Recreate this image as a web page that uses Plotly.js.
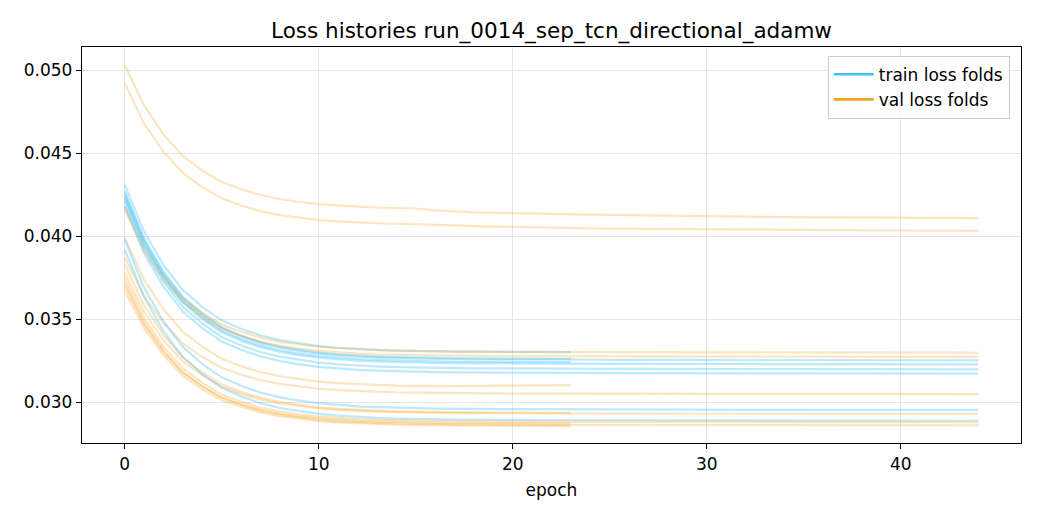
<!DOCTYPE html>
<html>
<head>
<meta charset="utf-8">
<script src="https://cdn.plot.ly/plotly-3.0.1.min.js"></script>
<style>
  body { margin: 0; background: #fff; }
  #plot { width: 1040px; height: 520px; }
</style>
</head>
<body>
<div id="plot"></div>
<script>
// loss per epoch
// train folds (some folds stop early at epoch 23)
var train_f1 = [0.04310, 0.04027, 0.03825, 0.03674, 0.03573, 0.03492, 0.03441, 0.03401, 0.03373, 0.03353, 0.03337, 0.03327, 0.03319, 0.03314, 0.03310, 0.03307, 0.03305, 0.03304, 0.03303, 0.03302, 0.03302, 0.03301, 0.03301, 0.03300];
var train_f2 = [0.04270, 0.03987, 0.03785, 0.03634, 0.03533, 0.03452, 0.03401, 0.03361, 0.03333, 0.03313, 0.03297, 0.03287, 0.03279, 0.03274, 0.03270, 0.03267, 0.03265, 0.03264, 0.03263, 0.03262, 0.03262, 0.03261, 0.03261, 0.03260];
var train_f3 = [0.04260, 0.03975, 0.03775, 0.03625, 0.03525, 0.03445, 0.03395, 0.03355, 0.03327, 0.03307, 0.03292, 0.03282, 0.03274, 0.03269, 0.03265, 0.03262, 0.03260, 0.03259, 0.03258, 0.03257, 0.03257, 0.03256, 0.03256,
  0.03255, 0.03255, 0.03254, 0.03254, 0.03254, 0.03254, 0.03253, 0.03253, 0.03253, 0.03253, 0.03253, 0.03252, 0.03252, 0.03252, 0.03252, 0.03252, 0.03252, 0.03251, 0.03251, 0.03251, 0.03251, 0.03251];
var train_f4 = [0.04240, 0.03960, 0.03760, 0.03610, 0.03510, 0.03430, 0.03380, 0.03340, 0.03312, 0.03292, 0.03277, 0.03267, 0.03259, 0.03254, 0.03250, 0.03247, 0.03245, 0.03244, 0.03243, 0.03242, 0.03242, 0.03241, 0.03241, 0.03240];
var train_f5 = [0.04230, 0.03950, 0.03750, 0.03600, 0.03500, 0.03420, 0.03370, 0.03330, 0.03302, 0.03282, 0.03267, 0.03257, 0.03249, 0.03244, 0.03240, 0.03237, 0.03235, 0.03234, 0.03233, 0.03232, 0.03232, 0.03231, 0.03231,
  0.03230, 0.03230, 0.03230, 0.03230, 0.03229, 0.03229, 0.03229, 0.03229, 0.03229, 0.03229, 0.03228, 0.03228, 0.03228, 0.03228, 0.03228, 0.03228, 0.03228, 0.03227, 0.03227, 0.03227, 0.03227, 0.03227];
var train_f6 = [0.04210, 0.03927, 0.03725, 0.03574, 0.03473, 0.03392, 0.03341, 0.03301, 0.03273, 0.03253, 0.03237, 0.03227, 0.03219, 0.03214, 0.03210, 0.03207, 0.03205, 0.03204, 0.03203, 0.03202, 0.03202, 0.03201, 0.03201,
  0.03200, 0.03200, 0.03200, 0.03200, 0.03199, 0.03199, 0.03199, 0.03199, 0.03199, 0.03199, 0.03198, 0.03198, 0.03198, 0.03198, 0.03198, 0.03198, 0.03198, 0.03197, 0.03197, 0.03197, 0.03197, 0.03197];
var train_f7 = [0.04180, 0.03895, 0.03695, 0.03545, 0.03445, 0.03365, 0.03315, 0.03275, 0.03247, 0.03227, 0.03212, 0.03202, 0.03194, 0.03189, 0.03185, 0.03182, 0.03180, 0.03179, 0.03178, 0.03177, 0.03177, 0.03176, 0.03176,
  0.03175, 0.03175, 0.03175, 0.03174, 0.03174, 0.03174, 0.03174, 0.03173, 0.03173, 0.03173, 0.03173, 0.03173, 0.03172, 0.03172, 0.03172, 0.03172, 0.03172, 0.03172, 0.03171, 0.03171, 0.03171, 0.03171];
var train_f8 = [0.03980, 0.03689, 0.03485, 0.03332, 0.03230, 0.03149, 0.03098, 0.03057, 0.03028, 0.03008, 0.02993, 0.02983, 0.02974, 0.02969, 0.02965, 0.02962, 0.02960, 0.02959, 0.02958, 0.02957, 0.02957, 0.02956, 0.02956,
  0.02955, 0.02955, 0.02955, 0.02955, 0.02954, 0.02954, 0.02954, 0.02954, 0.02954, 0.02953, 0.02953, 0.02953, 0.02953, 0.02953, 0.02953, 0.02952, 0.02952, 0.02952, 0.02952, 0.02952, 0.02952, 0.02952];
var train_f9 = [0.03920, 0.03632, 0.03426, 0.03271, 0.03168, 0.03086, 0.03034, 0.02993, 0.02964, 0.02944, 0.02928, 0.02918, 0.02910, 0.02904, 0.02900, 0.02897, 0.02895, 0.02894, 0.02893, 0.02892, 0.02892, 0.02891, 0.02891,
  0.02890, 0.02890, 0.02890, 0.02890, 0.02890, 0.02889, 0.02889, 0.02889, 0.02889, 0.02889, 0.02889, 0.02889, 0.02888, 0.02888, 0.02888, 0.02888, 0.02888, 0.02888, 0.02888, 0.02888, 0.02887, 0.02887];

// val folds
var val_f1 = [0.05030, 0.04786, 0.04612, 0.04482, 0.04395, 0.04325, 0.04282, 0.04247, 0.04223, 0.04205, 0.04192, 0.04183, 0.04177, 0.04172, 0.04169, 0.04166, 0.04155, 0.04148, 0.04143, 0.04140, 0.04137, 0.04135, 0.04133,
  0.04131, 0.04129, 0.04127, 0.04125, 0.04123, 0.04121, 0.04120, 0.04118, 0.04117, 0.04116, 0.04115, 0.04114, 0.04113, 0.04112, 0.04112, 0.04111, 0.04111, 0.04110, 0.04110, 0.04109, 0.04109, 0.04108];
var val_f2 = [0.04920, 0.04677, 0.04507, 0.04380, 0.04295, 0.04227, 0.04184, 0.04150, 0.04126, 0.04109, 0.04096, 0.04088, 0.04081, 0.04077, 0.04074, 0.04072, 0.04068, 0.04064, 0.04060, 0.04057, 0.04054, 0.04052, 0.04050,
  0.04048, 0.04046, 0.04045, 0.04044, 0.04043, 0.04042, 0.04041, 0.04040, 0.04039, 0.04038, 0.04037, 0.04036, 0.04036, 0.04035, 0.04035, 0.04034, 0.04034, 0.04033, 0.04033, 0.04032, 0.04032, 0.04031];
var val_f3 = [0.04180, 0.03934, 0.03758, 0.03626, 0.03538, 0.03467, 0.03423, 0.03388, 0.03363, 0.03346, 0.03333, 0.03324, 0.03317, 0.03312, 0.03309, 0.03306, 0.03304, 0.03304, 0.03303, 0.03302, 0.03301, 0.03301, 0.03301,
  0.03300, 0.03300, 0.03300, 0.03300, 0.03300, 0.03300, 0.03299, 0.03299, 0.03299, 0.03299, 0.03299, 0.03299, 0.03299, 0.03299, 0.03298, 0.03298, 0.03298, 0.03298, 0.03298, 0.03298, 0.03298, 0.03298];
var val_f4 = [0.04160, 0.03912, 0.03735, 0.03603, 0.03514, 0.03443, 0.03399, 0.03363, 0.03339, 0.03321, 0.03308, 0.03299, 0.03292, 0.03287, 0.03284, 0.03281, 0.03279, 0.03279, 0.03278, 0.03277, 0.03276, 0.03276, 0.03276,
  0.03275, 0.03275, 0.03275, 0.03275, 0.03275, 0.03274, 0.03274, 0.03274, 0.03274, 0.03274, 0.03274, 0.03274, 0.03273, 0.03273, 0.03273, 0.03273, 0.03273, 0.03273, 0.03273, 0.03273, 0.03272, 0.03272];
var val_f5 = [0.03990, 0.03738, 0.03558, 0.03423, 0.03333, 0.03261, 0.03216, 0.03180, 0.03155, 0.03137, 0.03123, 0.03114, 0.03107, 0.03103, 0.03099, 0.03097, 0.03096, 0.03096, 0.03097, 0.03098, 0.03099, 0.03100, 0.03101, 0.03102];
var val_f6 = [0.03870, 0.03640, 0.03476, 0.03353, 0.03271, 0.03206, 0.03165, 0.03132, 0.03109, 0.03093, 0.03080, 0.03072, 0.03066, 0.03061, 0.03058, 0.03056, 0.03054, 0.03053, 0.03052, 0.03052, 0.03051, 0.03051, 0.03050,
  0.03050, 0.03050, 0.03050, 0.03050, 0.03049, 0.03049, 0.03049, 0.03049, 0.03049, 0.03049, 0.03049, 0.03049, 0.03048, 0.03048, 0.03048, 0.03048, 0.03048, 0.03048, 0.03048, 0.03048, 0.03048, 0.03048];
var val_f7 = [0.03830, 0.03583, 0.03403, 0.03268, 0.03178, 0.03106, 0.03061, 0.03025, 0.03000, 0.02982, 0.02968, 0.02959, 0.02952, 0.02948, 0.02944, 0.02941, 0.02940, 0.02939, 0.02938, 0.02937, 0.02937, 0.02936, 0.02936, 0.02935];
var val_f8 = [0.03780, 0.03542, 0.03372, 0.03245, 0.03160, 0.03092, 0.03049, 0.03015, 0.02991, 0.02974, 0.02961, 0.02953, 0.02946, 0.02942, 0.02939, 0.02936, 0.02934, 0.02933, 0.02933, 0.02932, 0.02931, 0.02931, 0.02931,
  0.02930, 0.02930, 0.02930, 0.02930, 0.02930, 0.02930, 0.02929, 0.02929, 0.02929, 0.02929, 0.02929, 0.02929, 0.02929, 0.02929, 0.02928, 0.02928, 0.02928, 0.02928, 0.02928, 0.02928, 0.02928, 0.02928];
var val_f9 = [0.03750, 0.03506, 0.03332, 0.03202, 0.03115, 0.03045, 0.03002, 0.02967, 0.02943, 0.02925, 0.02912, 0.02903, 0.02897, 0.02892, 0.02889, 0.02886, 0.02884, 0.02883, 0.02883, 0.02882, 0.02881, 0.02881, 0.02881,
  0.02880, 0.02880, 0.02880, 0.02880, 0.02880, 0.02880, 0.02879, 0.02879, 0.02879, 0.02879, 0.02879, 0.02879, 0.02879, 0.02879, 0.02878, 0.02878, 0.02878, 0.02878, 0.02878, 0.02878, 0.02878, 0.02878];
var val_f10 = [0.03700, 0.03468, 0.03302, 0.03177, 0.03094, 0.03028, 0.02986, 0.02953, 0.02930, 0.02913, 0.02901, 0.02892, 0.02886, 0.02882, 0.02878, 0.02876, 0.02874, 0.02873, 0.02872, 0.02872, 0.02871, 0.02871, 0.02870, 0.02870];
var val_f11 = [0.03670, 0.03445, 0.03281, 0.03158, 0.03076, 0.03011, 0.02970, 0.02937, 0.02914, 0.02898, 0.02885, 0.02877, 0.02871, 0.02866, 0.02863, 0.02861, 0.02859, 0.02858, 0.02857, 0.02857, 0.02856, 0.02856, 0.02855, 0.02855];
var val_f12 = [0.03720, 0.03481, 0.03309, 0.03180, 0.03094, 0.03025, 0.02982, 0.02948, 0.02924, 0.02907, 0.02894, 0.02885, 0.02878, 0.02874, 0.02871, 0.02868, 0.02866, 0.02865, 0.02865, 0.02864, 0.02863, 0.02863, 0.02863,
  0.02862, 0.02862, 0.02862, 0.02862, 0.02862, 0.02862, 0.02861, 0.02861, 0.02861, 0.02861, 0.02861, 0.02861, 0.02861, 0.02861, 0.02860, 0.02860, 0.02860, 0.02860, 0.02860, 0.02860, 0.02860, 0.02860];

var train_folds = [train_f1, train_f2, train_f3, train_f4, train_f5, train_f6, train_f7, train_f8, train_f9];
var val_folds = [val_f1, val_f2, val_f3, val_f4, val_f5, val_f6, val_f7, val_f8, val_f9, val_f10, val_f11, val_f12];

var x_ticks = [0, 10, 20, 30, 40];
var y_ticks = [0.030, 0.035, 0.040, 0.045, 0.050];

var train_color = '#3fbff5';
var val_color = '#f5a31c';
var train_faint = 'rgba(63,191,245,0.34)';
var val_faint = 'rgba(245,163,28,0.28)';

// x is just the epoch index of each value
var epochs_of = function(arr) {
  return arr.map(function(v, i) { return i; });
};

var data = [];
var n = Math.max(train_folds.length, val_folds.length);
for (var i = 0; i < n; i++) {
  if (train_folds[i]) {
    data.push({x: epochs_of(train_folds[i]), y: train_folds[i], type: 'scatter', mode: 'lines',
      line: {color: train_faint, width: 2.2}, showlegend: false, hoverinfo: 'skip'});
  }
  if (val_folds[i]) {
    data.push({x: epochs_of(val_folds[i]), y: val_folds[i], type: 'scatter', mode: 'lines',
      line: {color: val_faint, width: 2.2}, showlegend: false, hoverinfo: 'skip'});
  }
}
// legend handles drawn at full colour
data.push({x: [null], y: [null], type: 'scatter', mode: 'lines', name: 'train loss folds',
  line: {color: train_color, width: 2.6}});
data.push({x: [null], y: [null], type: 'scatter', mode: 'lines', name: 'val loss folds',
  line: {color: val_color, width: 2.6}});

var font_fam = 'DejaVu Sans, sans-serif';

var layout = {
  width: 1040,
  height: 520,
  paper_bgcolor: '#fff',
  plot_bgcolor: '#fff',
  margin: {l: 82, r: 19, t: 47, b: 77},
  font: {family: font_fam, size: 17, color: '#000'},
  title: {text: 'Loss histories run_0014_sep_tcn_directional_adamw', font: {family: font_fam, size: 21.5, color: '#000'},
    x: 0.5, xref: 'paper', y: 0.942, yref: 'container', yanchor: 'middle'},
  showlegend: true,
  legend: {x: 0.988, y: 0.978, xanchor: 'right', yanchor: 'top', bgcolor: 'rgba(255,255,255,0.85)',
    bordercolor: '#cccccc', borderwidth: 1, font: {family: font_fam, size: 17},
    itemwidth: 40},
  xaxis: {
    range: [-2.2, 46.2],
    tickvals: x_ticks,
    ticktext: x_ticks.map(String),
    showgrid: true, gridcolor: '#e6e6e6', gridwidth: 1,
    zeroline: false,
    showline: true, linecolor: '#000', linewidth: 1.2, mirror: true,
    ticks: 'outside', ticklen: 5, tickwidth: 1, tickcolor: '#000',
    tickfont: {family: font_fam, size: 17},
    title: {text: 'epoch', font: {family: font_fam, size: 17}, standoff: 11}
  },
  yaxis: {
    range: [0.02753, 0.05139],
    tickvals: y_ticks,
    ticktext: y_ticks.map(function(v) { return v.toFixed(3); }),
    showgrid: true, gridcolor: '#e6e6e6', gridwidth: 1,
    zeroline: false,
    showline: true, linecolor: '#000', linewidth: 1.2, mirror: true,
    ticks: 'outside', ticklen: 5, tickwidth: 1, tickcolor: '#000',
    tickfont: {family: font_fam, size: 17}
  }
};

Plotly.newPlot('plot', data, layout, {displayModeBar: false, staticPlot: true});
</script>
</body>
</html>
